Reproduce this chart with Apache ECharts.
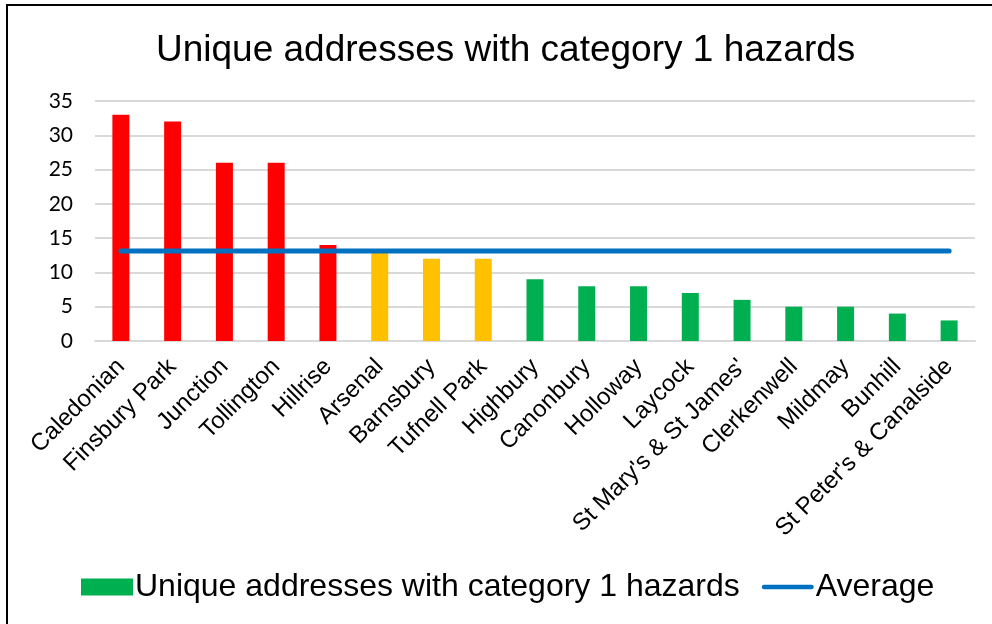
<!DOCTYPE html>
<html>
<head>
<meta charset="utf-8">
<script src="https://cdn.jsdelivr.net/npm/echarts@6/dist/echarts.min.js"></script>
<style>
html, body { margin: 0; padding: 0; background: #fff; overflow: hidden; }
#main { width: 992px; height: 624px; }
</style>
</head>
<body>
<div id="main"></div>
<script>
// ward names, in the order shown
var wards = ['Caledonian', 'Finsbury Park', 'Junction', 'Tollington', 'Hillrise', 'Arsenal',
  'Barnsbury', 'Tufnell Park', 'Highbury', 'Canonbury', 'Holloway', 'Laycock',
  "St Mary's & St James'", 'Clerkenwell', 'Mildmay', 'Bunhill', "St Peter's & Canalside"];
var hazards = [33, 32, 26, 26, 14, 13, 12, 12, 9, 8, 8, 7, 6, 5, 5, 4, 3];
// rag band per ward: r = red, a = amber, g = green
var bands = ['r', 'r', 'r', 'r', 'r', 'a', 'a', 'a', 'g', 'g', 'g', 'g', 'g', 'g', 'g', 'g', 'g'];
var averageVal = [13.12, 13.12, 13.12, 13.12, 13.12, 13.12, 13.12, 13.12, 13.12,
  13.12, 13.12, 13.12, 13.12, 13.12, 13.12, 13.12, 13.12];
var yTicks = [0, 5, 10, 15, 20, 25, 30, 35];

var bandColor = { r: '#ff0000', a: '#ffc000', g: '#00b050' };

var barData = [];
for (var i = 0; i < hazards.length; i++) {
  barData.push({ value: hazards[i], itemStyle: { color: bandColor[bands[i]] } });
}

var myChart = echarts.init(document.getElementById('main'));
var option = {
  backgroundColor: '#fff',
  animation: false,
  title: {
    text: 'Unique addresses with category 1 hazards',
    left: 151,
    top: 27,
    textStyle: { fontFamily: 'Liberation Sans', fontSize: 37, fontWeight: 'normal', color: '#000' }
  },
  graphic: [{
    type: 'rect',
    shape: { x: 7, y: 5, width: 1000, height: 700 },
    style: { fill: 'none', stroke: '#000', lineWidth: 2 }
  }],
  legend: {
    bottom: 16,
    left: 76,
    itemWidth: 52,
    itemHeight: 17,
    itemGap: 22,
    textStyle: { fontFamily: 'Liberation Sans', fontSize: 32, color: '#000', padding: [0, 0, 0, -3] },
    data: [
      { name: 'Unique addresses with category 1 hazards', icon: 'rect', itemStyle: { color: '#00b050' } },
      { name: 'Average', icon: 'path://M2.5,0 H53.5 A2.5,2.5 0 0 1 53.5,5 H2.5 A2.5,2.5 0 0 1 2.5,0 Z', itemStyle: { color: '#0070c0' } }
    ]
  },
  grid: { left: 95, right: 17, top: 101, bottom: 283, containLabel: false },
  xAxis: {
    type: 'category',
    data: wards,
    axisLine: { lineStyle: { color: '#d9d9d9', width: 2 } },
    axisTick: { show: false },
    axisLabel: {
      rotate: 45,
      interval: 0,
      margin: 22,
      color: '#000',
      fontFamily: 'Liberation Sans',
      fontSize: 24
    }
  },
  yAxis: {
    type: 'value',
    min: yTicks[0],
    max: yTicks[yTicks.length - 1],
    interval: 5,
    axisLine: { show: false },
    axisTick: { show: false },
    splitLine: { lineStyle: { color: '#d9d9d9', width: 2 } },
    axisLabel: { color: '#000', fontFamily: 'Lato', fontSize: 21, margin: 22 }
  },
  series: [{
    name: 'Unique addresses with category 1 hazards',
    type: 'bar',
    barWidth: 17,
    itemStyle: { color: '#00b050' },
    data: barData
  }, {
    name: 'Average',
    type: 'line',
    symbol: 'none',
    lineStyle: { color: '#0070c0', width: 5, cap: 'round' },
    itemStyle: { color: '#0070c0' },
    data: averageVal,
    z: 3
  }]
};
myChart.setOption(option);
</script>
</body>
</html>
